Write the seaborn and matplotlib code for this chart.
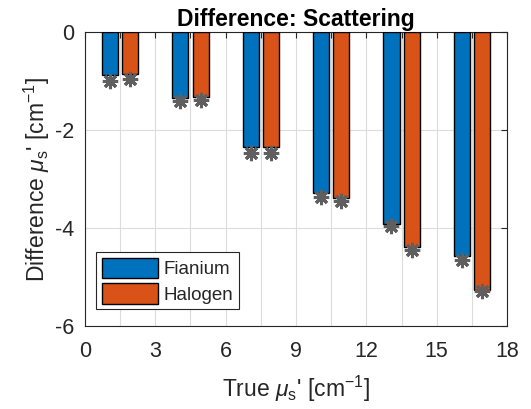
import numpy as np
import pandas as pd
import matplotlib
matplotlib.use("Agg")
import matplotlib.pyplot as plt
import seaborn as sns
from matplotlib.patches import Patch

# True reduced scattering values (pair centres) and per-source differences
true_mus = [1.5, 4.5, 7.5, 10.5, 13.5, 16.5]
fianium_diff = [-0.88, -1.35, -2.34, -3.29, -3.92, -4.58]
halogen_diff = [-0.86, -1.32, -2.34, -3.39, -4.38, -5.27]
fianium_star = [-1.00, -1.42, -2.47, -3.36, -3.97, -4.65]
halogen_star = [-0.97, -1.39, -2.47, -3.46, -4.44, -5.29]
sources = ["Fianium", "Halogen"]
colors = ["#0072BD", "#D95319"]
ytick_vals = [-6, -4, -2, 0]

sns.set_theme(style="white")
plt.rcParams["font.family"] = ["Liberation Sans", "DejaVu Sans"]
plt.rcParams["mathtext.fontset"] = "custom"
plt.rcParams["mathtext.it"] = "Liberation Sans:italic"
plt.rcParams["mathtext.rm"] = "Liberation Sans"

df = pd.DataFrame({
    "mus": true_mus * 2,
    "diff": fianium_diff + halogen_diff,
    "source": [sources[0]] * len(true_mus) + [sources[1]] * len(true_mus),
})

fig = plt.figure(figsize=(5.31, 4.09), dpi=100)
ax = fig.add_axes([0.160, 0.203, 0.795, 0.719])

width = 0.573
gap = 0.2
sns.barplot(data=df, x="mus", y="diff", hue="source", hue_order=sources,
            palette=colors, saturation=1, native_scale=True, width=width,
            gap=gap, edgecolor="black", linewidth=1.0, errorbar=None,
            legend=False, zorder=3, ax=ax)

# asterisk markers on each bar
spacing = min(np.diff(true_mus))
offset = width * spacing / 4
for i, stars in enumerate([fianium_star, halogen_star]):
    sign = -1 if i == 0 else 1
    ax.plot(np.array(true_mus) + sign * offset, stars, linestyle="none",
            marker=(8, 2, 0), markersize=11, markeredgewidth=2.2,
            color="#5f5f5f", zorder=4, clip_on=False)

ax.set_xlim(0, 18)
ax.set_ylim(-6, 0)
xt = np.arange(0, 18.01, 1.5)
ax.set_xticks(xt)
ax.set_xticklabels([str(int(v)) if v % 3 == 0 else "" for v in xt])
ax.set_yticks(ytick_vals)
ax.set_yticklabels([str(v) for v in ytick_vals])

ax.grid(True, color="#dcdcdc", linewidth=0.8, zorder=0)
ax.set_axisbelow(True)
for s in ax.spines.values():
    s.set_visible(True)
    s.set_color("#262626")
    s.set_linewidth(0.8)
ax.tick_params(axis="both", which="both", direction="in", length=4,
               width=0.8, color="#262626", top=True, right=True,
               labelsize=15.5, labelcolor="#262626")
ax.tick_params(axis="x", pad=11)
ax.tick_params(axis="y", pad=8)

ax.set_title("Difference: Scattering", fontsize=16.5, fontweight="bold",
             color="black", pad=4)
ax.set_xlabel("True $\\mu_{\\mathrm{s}}$' [cm$^{-1}$]", fontsize=16.5,
              color="#262626", labelpad=8)
ax.set_ylabel("Difference $\\mu_{\\mathrm{s}}$' [cm$^{-1}$]", fontsize=16.5,
              color="#262626", labelpad=2)

handles = [Patch(facecolor=c, edgecolor="black", linewidth=1.0) for c in colors]
leg = ax.legend(handles, sources, loc="lower left", fontsize=13.5,
                frameon=True, fancybox=False, framealpha=1,
                edgecolor="#262626", handlelength=3.0, handleheight=1.3,
                handletextpad=0.3, borderpad=0.3, labelspacing=0.25,
                bbox_to_anchor=(0.005, 0.025))
leg.get_frame().set_linewidth(0.8)
leg.set_zorder(5)

fig.savefig("out.png", dpi=100)
